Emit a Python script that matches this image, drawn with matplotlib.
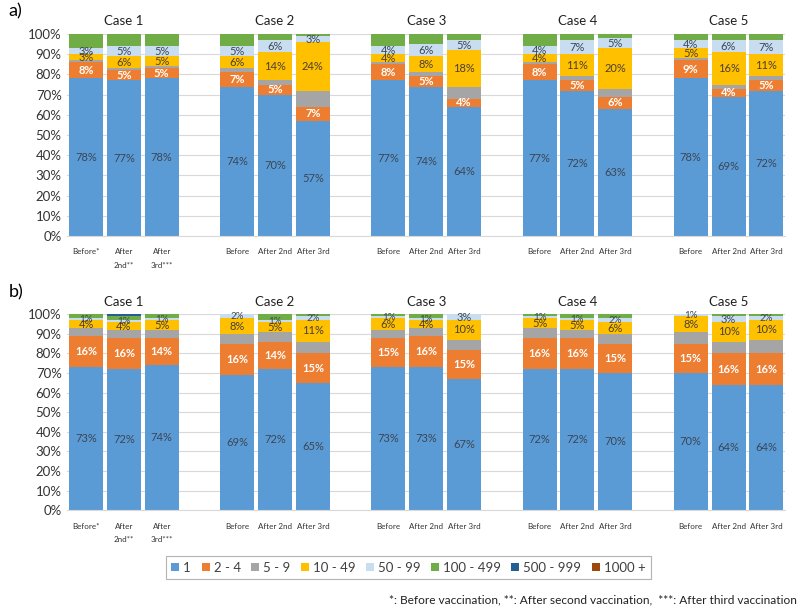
import numpy as np
import matplotlib.pyplot as plt
from matplotlib.patches import Patch
from matplotlib.transforms import blended_transform_factory

plt.rcParams['font.family'] = ['Lato', 'DejaVu Sans']

categories = ['1', '2 - 4', '5 - 9', '10 - 49', '50 - 99', '100 - 499', '500 - 999', '1000 +']
colors = ['#5B9BD5', '#ED7D31', '#A5A5A5', '#FFC000', '#C9DDF0', '#70AD47', '#255E91', '#9E480E']
cases = ['Case 1', 'Case 2', 'Case 3', 'Case 4', 'Case 5']
bar_labels_first = ['Before*', 'After\n2nd**', 'After\n3rd***']
bar_labels_other = ['Before', 'After 2nd', 'After 3rd']

# panel a), 15 bars: Case1 (Before, After 2nd, After 3rd), Case2 ...
a_1 = [78, 77, 78, 74, 70, 57, 77, 74, 64, 77, 72, 63, 78, 69, 72]
a_2_4 = [8, 5, 5, 7, 5, 7, 8, 5, 4, 8, 5, 6, 9, 4, 5]
a_5_9 = [1, 1, 1, 2, 2, 8, 1, 2, 6, 1, 2, 4, 1, 2, 2]
a_10_49 = [3, 6, 5, 6, 14, 24, 4, 8, 18, 4, 11, 20, 5, 16, 11]
a_50_99 = [3, 5, 5, 5, 6, 3, 4, 6, 5, 4, 7, 5, 4, 6, 7]
a_100_499 = [7, 6, 6, 6, 3, 1, 6, 5, 3, 6, 3, 2, 3, 3, 3]
a_500_999 = [0] * 15
a_1000 = [0] * 15

# panel b)
b_1 = [73, 72, 74, 69, 72, 65, 73, 73, 67, 72, 72, 70, 70, 64, 64]
b_2_4 = [16, 16, 14, 16, 14, 15, 15, 16, 15, 16, 16, 15, 15, 16, 16]
b_5_9 = [4, 4, 4, 5, 5, 6, 4, 4, 5, 5, 4, 5, 6, 6, 7]
b_10_49 = [4, 4, 5, 8, 5, 11, 6, 4, 10, 5, 5, 6, 8, 10, 10]
b_50_99 = [1, 1, 1, 2, 1, 2, 1, 1, 3, 1, 1, 2, 1, 3, 2]
b_100_499 = [2, 2, 2, 0, 3, 1, 1, 2, 0, 1, 2, 2, 0, 1, 1]
b_500_999 = [0, 1, 0, 0, 0, 0, 0, 0, 0, 0, 0, 0, 0, 0, 0]
b_1000 = [0] * 15

panel_a = [a_1, a_2_4, a_5_9, a_10_49, a_50_99, a_100_499, a_500_999, a_1000]
panel_b = [b_1, b_2_4, b_5_9, b_10_49, b_50_99, b_100_499, b_500_999, b_1000]

# series that get value labels, with their text colour
label_style = {0: ('#3B4656', 'normal'), 1: ('white', 'bold'),
               3: ('#4A4030', 'normal'), 4: ('#3B4656', 'normal')}

# x positions: 3 bars per case, one empty slot between cases
xpos = np.array([g * 4 + i for g in range(5) for i in range(3)])


def draw_panel(ax, data, tag):
    bottom = np.zeros(15)
    for k, vals in enumerate(data):
        vals = np.array(vals, dtype=float)
        ax.bar(xpos, vals, 0.9, bottom=bottom, color=colors[k], zorder=2)
        if k in label_style:
            col, wt = label_style[k]
            for x, v, b in zip(xpos, vals, bottom):
                if v > 0:
                    fs = 8 if v > 2 else 7
                    ax.text(x, b + v / 2, f'{v:.0f}%', ha='center', va='center',
                            fontsize=fs, color=col, fontweight=wt, zorder=3)
        bottom += vals

    ax.set_xlim(-0.5, 18.5)
    ax.set_ylim(0, 100)
    ax.set_yticks(range(0, 101, 10))
    ax.set_yticklabels([f'{t}%' for t in range(0, 101, 10)], fontsize=9.5, color='#333333')
    ax.yaxis.grid(True, color='#D9D9D9', lw=0.8, zorder=0)
    ax.set_xticks(xpos)
    ax.set_xticklabels(bar_labels_first + bar_labels_other * 4, fontsize=5.8,
                       color='#333333', linespacing=2.1, va='top')
    ax.tick_params(length=0, pad=9)
    ax.tick_params(axis='y', pad=4)
    for s in ['top', 'right', 'left']:
        ax.spines[s].set_visible(False)
    ax.spines['bottom'].set_color('#D9D9D9')

    tr = blended_transform_factory(ax.transData, ax.transAxes)
    for g, c in enumerate(cases):
        ax.text(g * 4 + 1, 1.065, c, transform=tr, ha='center', va='center',
                fontsize=9.5, color='#222222')
    ax.text(-0.082, 1.11, tag, transform=ax.transAxes, fontsize=13, ha='left', va='center')


fig = plt.figure(figsize=(8, 6.08), dpi=100)
ax_a = fig.add_axes([0.084, 0.612, 0.8975, 0.332])
ax_b = fig.add_axes([0.084, 0.161, 0.8975, 0.322])
draw_panel(ax_a, panel_a, 'a)')
draw_panel(ax_b, panel_b, 'b)')

handles = [Patch(facecolor=c, label=l) for c, l in zip(colors, categories)]
leg = fig.legend(handles=handles, ncol=8, loc='center', bbox_to_anchor=(0.5106, 0.0666),
                 fontsize=9.5, frameon=True, fancybox=False, handlelength=0.6,
                 handleheight=0.6, handletextpad=0.3, columnspacing=0.8,
                 borderpad=0.45, borderaxespad=0)
leg.get_frame().set_edgecolor('#A0A0A0')
leg.get_frame().set_linewidth(0.8)
for t in leg.get_texts():
    t.set_color('#404040')

fig.text(0.996, 0.013, '*: Before vaccination, **: After second vaccination,  ***: After third vaccination',
         ha='right', va='center', fontsize=8.6, color='#222222')

fig.savefig('out.png', dpi=100)
